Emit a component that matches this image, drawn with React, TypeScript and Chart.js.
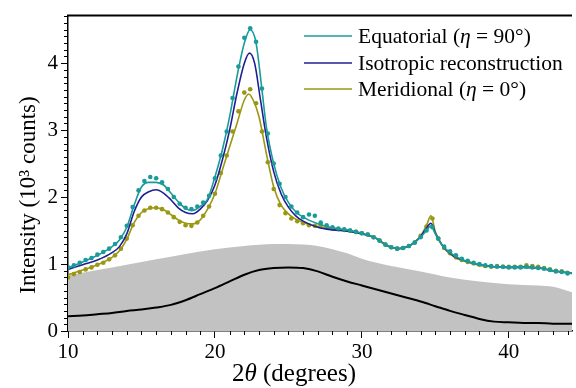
import React, { useEffect, useRef } from "react";
import { Chart, registerables } from "chart.js";

Chart.register(...registerables);

const FONT = '"Liberation Serif", "Times New Roman", serif';
const TEAL = "#1b9a9a";
const NAVY = "#1f1f94";
const OLIVE = "#9a9812";
const GRAY = "#c2c2c2";

// ---- data ----
const xTicks = [10, 20, 30, 40];
const yTicks = [0, 1, 2, 3, 4];

// gray background envelope (upper boundary)
const grayX = [10, 12, 14, 16, 18, 20, 22, 24, 26, 27, 28, 29, 30, 31, 32, 34, 36, 38, 40, 42, 43, 44.3];
const grayY = [0.83, 0.91, 0.99, 1.07, 1.15, 1.22, 1.27, 1.3, 1.29, 1.27, 1.22, 1.16, 1.08, 1.02, 0.97, 0.89, 0.8, 0.74, 0.7, 0.68, 0.66, 0.58];

// black (amorphous) curve
const blackX = [10, 11, 12, 13, 14, 15, 16, 17, 18, 19, 20, 21, 22, 23, 24, 25, 26, 27, 28, 29, 30, 31, 32, 33, 34, 35, 36, 37, 38, 39, 40, 41, 42, 43, 44.3];
const blackY = [0.22, 0.23, 0.25, 0.27, 0.3, 0.32, 0.35, 0.39, 0.46, 0.55, 0.64, 0.74, 0.84, 0.91, 0.94, 0.95, 0.94, 0.89, 0.81, 0.74, 0.68, 0.62, 0.56, 0.5, 0.44, 0.37, 0.3, 0.24, 0.18, 0.14, 0.13, 0.12, 0.12, 0.11, 0.11];

// fitted lines
const eqLineX = [10, 11, 12, 13, 13.5, 14, 14.5, 15, 15.5, 16, 16.5, 17, 17.5, 18, 18.5, 19, 19.5, 20, 20.5, 21, 21.5, 22, 22.4, 22.8, 23.2, 23.5, 24, 24.5, 25, 25.5, 26, 27, 28, 29, 30, 31, 31.5, 32, 32.5, 33, 33.5, 34, 34.4, 34.7, 35, 35.5, 36, 36.5, 37, 38, 39, 40, 41, 42, 43, 44.3];
const eqLineY = [0.94, 1.03, 1.13, 1.26, 1.36, 1.55, 1.88, 2.15, 2.22, 2.22, 2.18, 2.06, 1.93, 1.83, 1.8, 1.86, 1.97, 2.3, 2.7, 3.2, 3.8, 4.3, 4.5, 4.3, 3.6, 3.05, 2.5, 2.14, 1.92, 1.78, 1.7, 1.6, 1.54, 1.51, 1.46, 1.38, 1.3, 1.25, 1.23, 1.25, 1.31, 1.4, 1.5, 1.57, 1.45, 1.27, 1.17, 1.1, 1.05, 0.99, 0.96, 0.95, 0.95, 0.94, 0.9, 0.86];

const isoLineX = [10, 11, 12, 13, 13.5, 14, 14.5, 15, 15.5, 16, 16.5, 17, 17.5, 18, 18.5, 19, 19.5, 20, 20.5, 21, 21.5, 22, 22.35, 22.7, 23.1, 23.5, 24, 24.5, 25, 25.5, 26, 27, 28, 29, 30, 31, 31.5, 32, 32.5, 33, 33.5, 34, 34.4, 34.7, 35, 35.5, 36, 36.5, 37, 38, 39, 40, 41, 42, 43, 44.3];
const isoLineY = [0.92, 0.99, 1.06, 1.17, 1.26, 1.45, 1.78, 2.0, 2.08, 2.11, 2.06, 1.96, 1.84, 1.77, 1.75, 1.82, 1.95, 2.18, 2.55, 3.0, 3.55, 4.0, 4.15, 4.0, 3.45, 2.9, 2.38, 2.05, 1.85, 1.72, 1.64, 1.55, 1.51, 1.49, 1.45, 1.38, 1.3, 1.25, 1.23, 1.25, 1.31, 1.41, 1.54, 1.61, 1.46, 1.27, 1.16, 1.09, 1.05, 0.99, 0.96, 0.95, 0.95, 0.94, 0.9, 0.86];

const merLineX = [10, 11, 12, 13, 13.5, 14, 14.5, 15, 15.5, 16, 16.5, 17, 17.5, 18, 18.5, 19, 19.5, 20, 20.5, 21, 21.5, 22, 22.3, 22.6, 23, 23.5, 24, 24.5, 25, 25.5, 26, 27, 28, 29, 30, 31, 31.5, 32, 32.5, 33, 33.5, 34, 34.4, 34.7, 35, 35.5, 36, 36.5, 37, 38, 39, 40, 41, 42, 43, 44.3];
const merLineY = [0.84, 0.91, 0.99, 1.1, 1.2, 1.37, 1.62, 1.77, 1.83, 1.84, 1.81, 1.74, 1.66, 1.61, 1.6, 1.66, 1.82, 2.05, 2.4, 2.75, 3.1, 3.45, 3.54, 3.45, 3.2, 2.65, 2.15, 1.88, 1.75, 1.67, 1.62, 1.56, 1.52, 1.5, 1.46, 1.38, 1.31, 1.25, 1.23, 1.25, 1.31, 1.42, 1.58, 1.72, 1.48, 1.27, 1.15, 1.08, 1.04, 0.98, 0.96, 0.95, 0.96, 0.95, 0.9, 0.86];

// measured points
const dotX = [10.0, 10.4, 10.8, 11.2, 11.6, 12.0, 12.4, 12.8, 13.2, 13.6, 14.0, 14.4, 14.8, 15.2, 15.6, 16.0, 16.4, 16.8, 17.2, 17.6, 18.0, 18.4, 18.8, 19.2, 19.6, 20.0, 20.4, 20.8, 21.2, 21.6, 22.0, 22.4, 22.8, 23.2, 23.6, 24.0, 24.4, 24.8, 25.2, 25.6, 26.0, 26.4, 26.8, 27.2, 27.6, 28.0, 28.4, 28.8, 29.2, 29.6, 30.0, 30.4, 30.8, 31.2, 31.6, 32.0, 32.4, 32.8, 33.2, 33.6, 34.0, 34.4, 34.8, 35.2, 35.6, 36.0, 36.4, 36.8, 37.2, 37.6, 38.0, 38.4, 38.8, 39.2, 39.6, 40.0, 40.4, 40.8, 41.2, 41.6, 42.0, 42.4, 42.8, 43.2, 43.6, 44.0];
const eqDotY = [0.95, 0.98, 1.02, 1.06, 1.09, 1.14, 1.18, 1.23, 1.3, 1.4, 1.57, 1.85, 2.1, 2.24, 2.3, 2.28, 2.22, 2.12, 2.0, 1.9, 1.84, 1.82, 1.86, 1.92, 2.02, 2.28, 2.62, 2.98, 3.48, 3.95, 4.38, 4.52, 4.32, 3.62, 2.95, 2.5, 2.2, 2.0, 1.86, 1.77, 1.7, 1.74, 1.72, 1.62, 1.58, 1.55, 1.53, 1.52, 1.5, 1.48, 1.46, 1.44, 1.4, 1.35, 1.29, 1.25, 1.23, 1.24, 1.27, 1.32, 1.4, 1.5, 1.55, 1.38, 1.26, 1.19, 1.13, 1.08, 1.05, 1.02, 1.0, 0.98, 0.97, 0.96, 0.96, 0.95, 0.95, 0.95, 0.96, 0.95, 0.94, 0.93, 0.91, 0.89, 0.88, 0.86];
const merDotY = [0.8, 0.85, 0.88, 0.92, 0.95, 0.99, 1.02, 1.07, 1.13, 1.23, 1.38, 1.58, 1.72, 1.8, 1.84, 1.84, 1.82, 1.77, 1.7, 1.63, 1.58, 1.57, 1.62, 1.72, 1.86, 2.05, 2.36, 2.62, 2.98, 3.28, 3.56, 3.61, 3.4, 2.98, 2.52, 2.12, 1.88, 1.76, 1.68, 1.64, 1.61, 1.58, 1.57, 1.58, 1.56, 1.53, 1.52, 1.51, 1.5, 1.48, 1.46, 1.44, 1.4, 1.35, 1.29, 1.25, 1.23, 1.24, 1.27, 1.32, 1.42, 1.56, 1.68, 1.38, 1.24, 1.16, 1.1, 1.06, 1.03, 1.01, 0.99, 0.97, 0.96, 0.97, 0.96, 0.96, 0.96, 0.96, 0.98, 0.97, 0.96, 0.94, 0.92, 0.9, 0.89, 0.87];

const legendLabels = [
  { color: TEAL, parts: [["Equatorial (", false], ["η", true], [" = 90°)", false]] },
  { color: NAVY, parts: [["Isotropic reconstruction", false]] },
  { color: OLIVE, parts: [["Meridional (", false], ["η", true], [" = 0°)", false]] },
];
const yTitle = "Intensity (10³ counts)";
const xTitleParts: [string, boolean][] = [["2", false], ["θ", true], [" (degrees)", false]];

const pts = (xs: number[], ys: number[]) => xs.map((x, i) => ({ x, y: ys[i] }));

const decorPlugin = {
  id: "decor",
  afterDraw(chart: any) {
    const ctx = chart.ctx as CanvasRenderingContext2D;
    const xs = chart.scales.x;
    const ys = chart.scales.y;
    const area = chart.chartArea;
    ctx.save();
    // top frame
    ctx.strokeStyle = "#000";
    ctx.lineWidth = 2;
    ctx.beginPath();
    ctx.moveTo(area.left - 1, area.top);
    ctx.lineTo(area.right, area.top);
    ctx.stroke();
    // minor ticks
    ctx.lineWidth = 1;
    ctx.beginPath();
    for (let v = 11; v <= 44; v++) {
      if (v % 10 === 0) continue;
      const px = Math.round(xs.getPixelForValue(v)) + 0.5;
      ctx.moveTo(px, area.bottom);
      ctx.lineTo(px, area.bottom + 4);
    }
    for (let k = 1; k <= 47; k++) {
      if (k % 10 === 0) continue;
      const py = Math.round(ys.getPixelForValue(k / 10)) + 0.5;
      ctx.moveTo(area.left, py);
      ctx.lineTo(area.left - 4, py);
    }
    ctx.stroke();

    const drawParts = (parts: any[], x: number, y: number, size: number, align: "left" | "center") => {
      const widths = parts.map(([t, it]: any) => {
        ctx.font = `${it ? "italic " : ""}${size}px ${FONT}`;
        return ctx.measureText(t).width;
      });
      const total = widths.reduce((a: number, b: number) => a + b, 0);
      let cx = align === "center" ? x - total / 2 : x;
      ctx.textAlign = "left";
      parts.forEach(([t, it]: any, i: number) => {
        ctx.font = `${it ? "italic " : ""}${size}px ${FONT}`;
        ctx.fillText(t, cx, y);
        cx += widths[i];
      });
    };

    // legend
    ctx.fillStyle = "#000";
    ctx.textBaseline = "middle";
    const legendRows = [36, 63, 89];
    legendLabels.forEach((item, i) => {
      const y = legendRows[i];
      ctx.strokeStyle = item.color;
      ctx.lineWidth = 1.6;
      ctx.beginPath();
      ctx.moveTo(304, y);
      ctx.lineTo(352, y);
      ctx.stroke();
      drawParts(item.parts, 358, y + 1, 21.5, "left");
    });

    // x title
    ctx.textBaseline = "alphabetic";
    drawParts(xTitleParts, 294, 381, 25, "center");

    // y title
    ctx.save();
    ctx.translate(35, 195);
    ctx.rotate(-Math.PI / 2);
    ctx.font = `23px ${FONT}`;
    ctx.textAlign = "center";
    ctx.textBaseline = "alphabetic";
    ctx.fillText(yTitle, 0, 0);
    ctx.restore();
    ctx.restore();
  },
};

export default function App() {
  const ref = useRef<HTMLCanvasElement | null>(null);
  useEffect(() => {
    if (!ref.current) return;
    const lineDs = (label: string, data: any[], color: string, order: number, width = 1.6) => ({
      label,
      data,
      showLine: true,
      borderColor: color,
      backgroundColor: color,
      borderWidth: width,
      pointRadius: 0,
      cubicInterpolationMode: "monotone" as const,
      order,
    });
    const dotDs = (label: string, data: any[], color: string, order: number) => ({
      label,
      data,
      showLine: false,
      borderColor: color,
      backgroundColor: color,
      pointRadius: 2.3,
      pointBorderWidth: 0,
      order,
    });
    const chart = new Chart(ref.current, {
      type: "scatter",
      data: {
        datasets: [
          {
            label: "background",
            data: pts(grayX, grayY),
            showLine: true,
            fill: "origin",
            backgroundColor: GRAY,
            borderColor: GRAY,
            borderWidth: 0,
            pointRadius: 0,
            cubicInterpolationMode: "monotone",
            order: 10,
          } as any,
          lineDs("amorphous", pts(blackX, blackY), "#000", 9, 2),
          lineDs("Meridional fit", pts(merLineX, merLineY), OLIVE, 8),
          dotDs("Meridional data", pts(dotX, merDotY), OLIVE, 7),
          lineDs("Isotropic reconstruction", pts(isoLineX, isoLineY), NAVY, 6),
          lineDs("Equatorial fit", pts(eqLineX, eqLineY), TEAL, 5),
          dotDs("Equatorial data", pts(dotX, eqDotY), TEAL, 4),
        ],
      },
      options: {
        animation: false,
        responsive: false,
        devicePixelRatio: 1,
        layout: { padding: { top: 14, right: 0, left: 0, bottom: 0 } },
        plugins: { legend: { display: false }, tooltip: { enabled: false } },
        scales: {
          x: {
            type: "linear",
            min: 10,
            max: 44.3,
            afterFit: (s: any) => {
              s.height = 57;
            },
            afterBuildTicks: (s: any) => {
              s.ticks = xTicks.map((v) => ({ value: v }));
            },
            ticks: {
              font: { family: FONT, size: 21 },
              color: "#000",
              padding: 2,
              maxRotation: 0,
              callback: (v: any) => String(v),
            },
            grid: { drawOnChartArea: false, drawTicks: true, tickLength: 7, color: "#000", lineWidth: 1 },
            border: { display: true, color: "#000", width: 1.5 },
          },
          y: {
            type: "linear",
            min: 0,
            max: 4.71,
            afterFit: (s: any) => {
              s.width = 68;
            },
            afterBuildTicks: (s: any) => {
              s.ticks = yTicks.map((v) => ({ value: v }));
            },
            ticks: {
              font: { family: FONT, size: 21 },
              color: "#000",
              padding: 3,
              callback: (v: any) => String(v),
            },
            grid: { drawOnChartArea: false, drawTicks: true, tickLength: 7, color: "#000", lineWidth: 1 },
            border: { display: true, color: "#000", width: 1.5 },
          },
        },
      },
      plugins: [decorPlugin],
    });
    return () => chart.destroy();
  }, []);
  return (
    <div style={{ position: "absolute", left: 0, top: 0, width: 576, height: 388, background: "#fff" }}>
      <canvas ref={ref} width={576} height={388} style={{ display: "block" }} />
    </div>
  );
}
